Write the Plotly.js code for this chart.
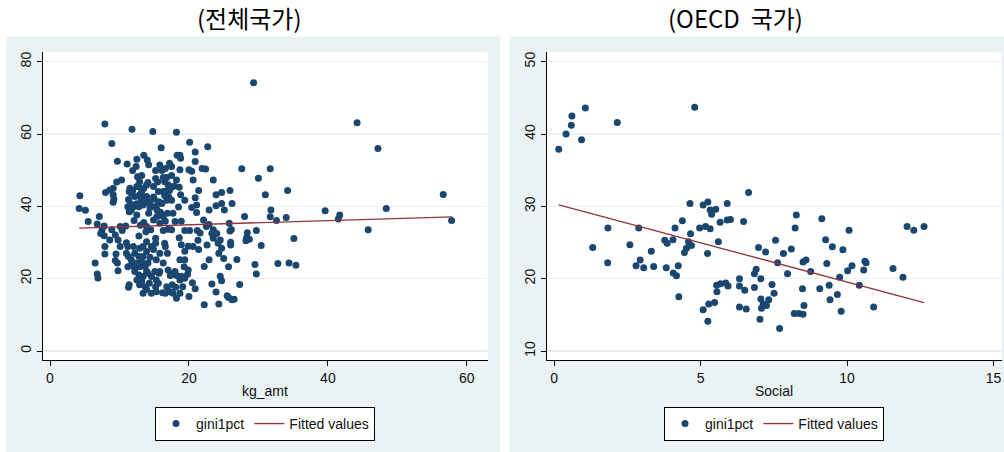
<!DOCTYPE html>
<html>
<head>
<meta charset="utf-8">
<script src="https://cdn.plot.ly/plotly-3.0.1.min.js"></script>
<style>html,body{margin:0;padding:0;background:#fff;}#chart{width:1004px;height:452px;}</style>
</head>
<body>
<div id="chart"></div>
<script>
// ---- Left panel: all countries (kg_amt vs gini1pct) ----
const allKg = [29.3,7.9,11.8,14.8,18.2,8.9,16.0,20.1,22.7,44.2,47.2,9.7,20.9,27.6,31.7,30.0,23.5,31.0,34.2,24.7,25.9,56.6,48.4,39.6,41.7,41.5,31.8,31.7,32.6,34.0,28.0,26.2,25.1,57.8,45.8,29.7,28.4,28.3,28.7,28.2,35.1,30.4,26.9,29.5,32.8,34.4,35.4,29.7,27.3,25.7,25.0,22.2,24.3,25.5,25.7,26.2,26.5,23.9,20.0,20.9,20.5,23.3,24.7,24.5,22.9,22.2,26.0,26.0,25.9,26.1,25.8,24.7,23.9,23.9,22.9,22.9,23.5,23.3,23.5,24.2,24.7,24.3,22.6,21.4,20.6,19.9,21.3,21.2,20.1,19.4,18.6,18.9,18.5,19.4,20.9,21.1,20.4,21.1,21.4,20.6,20.4,20.9,21.9,22.4,20.0,18.7,18.8,18.3,18.7,17.5,17.2,16.6,16.1,15.8,15.2,15.2,15.5,16.5,17.5,17.9,18.6,18.8,17.1,16.5,17.2,16.3,15.6,15.0,14.6,15.3,15.7,15.9,16.3,15.4,14.9,14.2,14.4,13.9,13.5,13.5,13.9,14.1,14.9,14.2,14.0,13.5,12.5,12.4,11.9,11.1,12.6,13.2,12.9,12.5,11.5,11.4,11.7,11.9,11.3,11.6,11.2,11.4,11.9,12.5,12.8,13.1,12.9,13.4,10.3,9.6,9.1,8.6,8.0,9.1,9.2,9.1,4.3,4.2,5.1,5.5,7.1,6.8,7.8,7.5,7.3,7.8,8.9,10.4,10.9,12.1,13.0,13.5,13.9,13.8,12.8,14.5,15.2,15.2,14.9,15.8,16.5,16.6,16.9,16.3,17.0,17.5,16.6,18.0,16.9,7.9,7.9,8.6,9.8,10.1,9.5,9.4,9.7,9.8,6.5,6.8,6.9,11.2,11.0,11.3,11.2,11.7,11.4,11.3,12.2,12.8,12.9,13.4,13.9,12.5,12.2,12.8,12.5,12.9,13.4,13.4,13.7,14.1,13.9,13.4,14.3,13.9,14.6,15.1,15.7,15.3,15.8,15.2,15.6,16.2,16.6,17.3,17.0,17.5,18.0,17.6,18.1,17.7,18.2,19.1,19.4,19.8,19.3,19.4,19.9,18.9,18.7,
12.2,12.7,13.2,13.9,14.4,11.7,12.5,16.3,16.8,17.0,16.8,17.5,17.7,15.8,11.7,12.2,12.9,13.2,14.4,14.1,13.2,13.7,14.6,15.3,16.8,17.3,18.2,18.7,11.0,12.0,13.9,14.6,15.3,16.3,21.6,22.1,22.5,24.0,24.5,18.9,19.4,18.7,10.1,9.4,14.9,15.4,16.1,16.8,17.5,18.2];
const allGini = [74.2,62.8,61.3,60.7,60.5,57.4,56.2,57.7,56.5,63.1,56.0,52.5,55.0,50.4,50.4,47.8,47.3,43.2,44.4,43.8,44.4,43.3,39.4,38.8,37.6,36.5,39.0,37.1,36.1,36.9,37.2,40.8,39.0,36.1,33.5,33.3,32.7,31.4,30.9,30.5,31.1,29.2,25.3,23.9,24.2,24.3,23.7,21.3,18.4,23.3,25.6,12.8,13.0,15.3,14.8,14.2,14.3,16.3,15.1,17.2,18.9,18.5,19.4,20.7,25.2,23.4,29.3,30.1,33.2,33.6,35.3,40.8,40.2,43.2,39.0,35.0,33.5,32.5,31.2,29.8,28.4,27.0,29.3,28.1,28.9,29.0,30.6,33.3,33.3,33.3,31.3,35.9,39.8,41.7,42.4,38.3,39.7,40.4,44.4,47.3,49.7,52.4,50.5,50.3,50.1,50.1,53.3,54.1,54.1,51.0,51.9,50.5,49.9,51.4,49.9,47.7,46.7,46.8,48.5,45.6,45.3,43.2,42.6,43.0,44.4,44.1,44.1,42.0,39.9,40.1,41.3,38.4,37.2,37.2,36.2,38.1,39.7,41.1,42.4,45.0,45.9,46.6,45.5,51.5,52.8,54.1,53.0,51.0,49.9,51.7,48.2,48.5,46.8,45.5,45.0,44.1,43.6,44.4,41.9,40.7,39.9,38.5,39.7,40.7,39.9,41.8,43.2,40.4,47.3,46.7,45.0,44.5,43.8,43.2,42.0,41.1,42.9,39.4,38.9,35.8,37.2,35.1,34.6,33.5,32.5,31.9,33.5,33.3,34.6,36.1,34.8,35.5,34.4,33.0,31.8,33.5,31.2,29.8,28.1,27.0,29.8,28.9,27.0,33.3,33.7,33.5,35.9,35.8,38.1,28.9,26.8,30.7,30.7,28.9,26.8,25.0,24.3,22.2,24.3,21.3,20.2,28.9,27.0,26.1,23.3,23.8,18.3,17.6,27.0,26.1,28.4,28.9,27.5,24.3,22.0,21.0,19.6,18.3,16.0,26.1,23.3,24.3,22.0,20.6,18.7,17.0,20.6,22.0,21.5,19.6,22.0,17.8,18.7,16.1,16.0,16.4,22.4,21.3,22.0,18.3,17.6,16.0,14.6,17.8,20.1,21.2,23.3,25.2,22.4,20.7,19.6,
42.7,45.5,44.1,42.7,41.3,38.9,37.6,48.0,48.0,46.0,44.3,41.7,38.1,35.3,25.2,22.9,23.3,24.6,25.9,21.5,19.2,17.8,16.0,16.4,17.8,20.9,20.9,16.0,29.9,28.9,30.2,28.9,25.2,24.3,32.6,36.2,34.4,32.5,30.7,29.4,27.6,25.2,34.4,32.1,42.6,39.0,40.8,41.7,45.3,47.3];
const allFitX = [4.2, 57.9];
const allFitY = [34.0, 37.1];

// ---- Right panel: OECD countries (Social vs gini1pct) ----
const oecdSocial = [0.16,0.41,0.59,0.61,0.94,1.07,2.16,4.80,1.32,1.84,1.83,2.59,2.89,2.94,2.80,3.06,3.32,3.40,3.78,3.86,3.83,4.06,4.13,4.38,4.07,4.18,4.24,4.26,4.45,4.52,4.59,4.69,4.66,4.64,4.97,5.09,5.25,5.17,5.33,5.33,5.38,5.52,5.24,5.61,5.67,5.91,5.91,6.02,6.47,6.64,5.09,5.25,5.28,5.48,5.55,5.56,5.68,5.86,5.94,6.33,6.33,6.51,6.33,6.56,6.84,6.90,6.98,7.22,6.84,7.06,7.06,7.08,7.14,7.25,7.33,7.03,7.44,7.51,7.56,7.63,7.70,7.83,7.97,8.10,8.23,8.27,8.20,8.36,8.50,8.53,8.48,8.50,8.60,8.76,9.07,9.14,9.27,9.31,9.39,9.42,9.50,9.67,9.75,9.80,9.86,10.02,10.07,10.17,10.42,10.57,10.61,10.65,10.91,11.57,11.91,12.05,12.28,12.63];
const oecdGini = [37.9,40.0,41.2,42.5,39.2,43.6,41.6,43.7,24.3,27.0,22.2,24.7,27.0,22.6,21.8,21.5,23.8,21.7,25.3,24.9,21.5,25.4,27.0,28.0,20.8,20.4,21.8,17.5,23.6,24.2,25.1,24.6,26.2,30.4,27.0,30.2,30.6,27.2,26.9,29.5,28.9,29.6,23.5,25.1,27.8,30.4,28.1,28.2,27.9,31.9,15.7,14.1,16.5,16.7,19.1,18.2,19.3,19.4,19.0,20.0,19.0,18.4,16.1,15.8,20.7,21.3,24.3,23.7,18.8,20.0,17.2,15.9,16.5,16.3,17.1,14.4,19.2,18.0,25.3,22.2,13.1,23.5,20.7,24.1,27.0,28.8,15.2,15.2,15.1,16.3,18.6,22.3,22.6,21.0,18.6,28.3,25.4,22.1,19.1,17.1,24.4,17.8,20.2,15.5,24.0,21.1,26.7,21.8,19.1,21.2,22.4,22.2,16.1,21.4,20.2,27.2,26.7,27.2];
const oecdFitX = [0.16, 12.63];
const oecdFitY = [30.2, 16.7];

const titles = ['(전체국가)', '(OECD\u00a0\u00a0국가)'];
const xTitles = ['kg_amt', 'Social'];
const seriesNames = ['gini1pct', 'Fitted values'];
const leftXTicks = [0, 20, 40, 60];
const leftYTicks = [0, 20, 40, 60, 80];
const rightXTicks = [0, 5, 10, 15];
const rightYTicks = [10, 20, 30, 40, 50];

const W = 1004, H = 452;
const px = v => v / W;
const py = v => (H - v) / H;

const NAVY = '#1a476f', MAROON = '#90353b', BG = '#eaf2f3';
const FONT = 'Liberation Sans, Arial, sans-serif';

const traces = [
  {x: allKg, y: allGini, type: 'scatter', mode: 'markers', name: seriesNames[0],
   marker: {color: NAVY, size: 7, line: {width: 0}}, xaxis: 'x', yaxis: 'y', legend: 'legend'},
  {x: allFitX, y: allFitY, type: 'scatter', mode: 'lines', name: seriesNames[1],
   line: {color: MAROON, width: 1.3}, xaxis: 'x', yaxis: 'y', legend: 'legend'},
  {x: oecdSocial, y: oecdGini, type: 'scatter', mode: 'markers', name: seriesNames[0],
   marker: {color: NAVY, size: 7, line: {width: 0}}, xaxis: 'x2', yaxis: 'y2', legend: 'legend2'},
  {x: oecdFitX, y: oecdFitY, type: 'scatter', mode: 'lines', name: seriesNames[1],
   line: {color: MAROON, width: 1.3}, xaxis: 'x2', yaxis: 'y2', legend: 'legend2'}
];

function xAxis(domain, range, ticks, anchor) {
  return {domain, range, anchor, tickvals: ticks, ticktext: ticks.map(String),
    showline: true, linecolor: '#000', linewidth: 1.2, ticks: 'outside', ticklen: 5,
    tickcolor: '#000', tickwidth: 1, showgrid: false, zeroline: false,
    tickfont: {family: FONT, size: 14, color: '#111'}, fixedrange: true};
}
function yAxis(domain, range, ticks, anchor) {
  return {domain, range, anchor, tickvals: ticks, ticktext: ticks.map(String),
    showline: true, linecolor: '#000', linewidth: 1.2, ticks: 'outside', ticklen: 5,
    tickcolor: '#000', tickwidth: 1, showgrid: true, gridcolor: BG, gridwidth: 1.5,
    zeroline: false, tickangle: -90,
    tickfont: {family: FONT, size: 14, color: '#111'}, fixedrange: true};
}

const legendCommon = {orientation: 'h', bgcolor: '#fff', bordercolor: '#000', borderwidth: 1,
  font: {family: FONT, size: 14, color: '#111'}, xanchor: 'center', yanchor: 'top',
  y: py(407), itemclick: false, itemdoubleclick: false};

const layout = {
  width: W, height: H,
  margin: {l: 0, r: 0, t: 0, b: 0, pad: 0},
  paper_bgcolor: '#fff', plot_bgcolor: '#fff',
  showlegend: true,
  xaxis: xAxis([px(42.7), px(487.7)], [-1.05, 63.0], leftXTicks, 'y'),
  yaxis: yAxis([py(360), py(52.3)], [-2.49, 82.6], leftYTicks, 'x'),
  xaxis2: xAxis([px(546.7), px(1001.7)], [-0.25, 15.28], rightXTicks, 'y2'),
  yaxis2: yAxis([py(360), py(52.3)], [8.76, 51.3], rightYTicks, 'x2'),
  legend: Object.assign({}, legendCommon, {x: px(265)}),
  legend2: Object.assign({}, legendCommon, {x: px(774)}),
  shapes: [
    {type: 'rect', xref: 'paper', yref: 'paper', x0: px(6), x1: px(500), y0: 0, y1: py(36.7),
     fillcolor: BG, line: {width: 0}, layer: 'below'},
    {type: 'rect', xref: 'paper', yref: 'paper', x0: px(509.3), x1: 1, y0: 0, y1: py(36.7),
     fillcolor: BG, line: {width: 0}, layer: 'below'},
    {type: 'rect', xref: 'x domain', yref: 'y domain', x0: 0, x1: 1, y0: 0, y1: 1,
     fillcolor: '#fff', line: {width: 0}, layer: 'below'},
    {type: 'rect', xref: 'x2 domain', yref: 'y2 domain', x0: 0, x1: 1, y0: 0, y1: 1,
     fillcolor: '#fff', line: {width: 0}, layer: 'below'}
  ],
  annotations: [
    {text: titles[0], xref: 'paper', yref: 'paper', x: px(249), y: py(18), xanchor: 'center', yanchor: 'middle',
     showarrow: false, font: {family: 'Noto Sans CJK KR, sans-serif', size: 24, color: '#000'}},
    {text: titles[1], xref: 'paper', yref: 'paper', x: px(735), y: py(18), xanchor: 'center', yanchor: 'middle',
     showarrow: false, font: {family: 'Noto Sans CJK KR, sans-serif', size: 24, color: '#000'}},
    {text: xTitles[0], xref: 'paper', yref: 'paper', x: px(265), y: py(391), xanchor: 'center', yanchor: 'middle',
     showarrow: false, font: {family: FONT, size: 14, color: '#111'}},
    {text: xTitles[1], xref: 'paper', yref: 'paper', x: px(774), y: py(391), xanchor: 'center', yanchor: 'middle',
     showarrow: false, font: {family: FONT, size: 14, color: '#111'}}
  ]
};

Plotly.newPlot('chart', traces, layout, {staticPlot: true, displayModeBar: false});
</script>
</body>
</html>
